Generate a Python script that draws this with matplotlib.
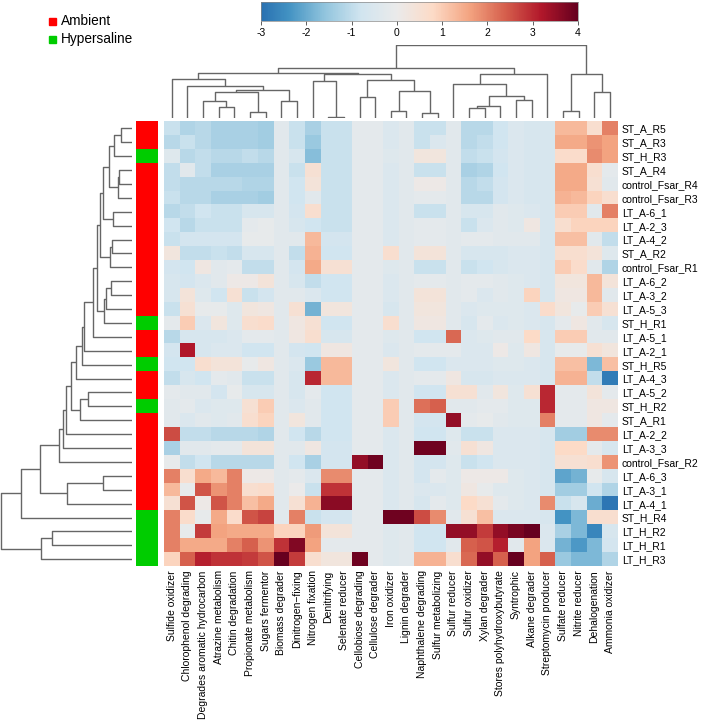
import numpy as np
import matplotlib
matplotlib.use('Agg')
import matplotlib.pyplot as plt
from matplotlib.colors import LinearSegmentedColormap, Normalize
from matplotlib.patches import Rectangle

plt.rcParams['font.family'] = ['Liberation Sans', 'DejaVu Sans']
plt.rcParams['axes.unicode_minus'] = False

# column labels (functional groups), in dendrogram order
functions = ['Sulfide oxidizer', 'Chlorophenol degrading', 'Degrades aromatic hydrocarbon',
             'Atrazine metabolism', 'Chitin degradation', 'Propionate metabolism',
             'Sugars fermentor', 'Biomass degrader', 'Dinitrogen\u2212fixing', 'Nitrogen fixation',
             'Denitrifying', 'Selenate reducer', 'Cellobiose degrading', 'Cellulose degrader',
             'Iron oxidizer', 'Lignin degrader', 'Naphthalene degrading', 'Sulfur metabolizing',
             'Sulfur reducer', 'Sulfur oxidizer', 'Xylan degrader', 'Stores polyhydroxybutyrate',
             'Syntrophic', 'Alkane degrader', 'Streptomycin producer', 'Sulfate reducer',
             'Nitrite reducer', 'Dehalogenation', 'Ammonia oxidizer']

# row labels (samples), in dendrogram order
samples = ['ST_A_R5', 'ST_A_R3', 'ST_H_R3', 'ST_A_R4', 'control_Fsar_R4', 'control_Fsar_R3',
           'LT_A-6_1', 'LT_A-2_3', 'LT_A-4_2', 'ST_A_R2', 'control_Fsar_R1', 'LT_A-6_2',
           'LT_A-3_2', 'LT_A-5_3', 'ST_H_R1', 'LT_A-5_1', 'LT_A-2_1', 'ST_H_R5', 'LT_A-4_3',
           'LT_A-5_2', 'ST_H_R2', 'ST_A_R1', 'LT_A-2_2', 'LT_A-3_3', 'control_Fsar_R2',
           'LT_A-6_3', 'LT_A-3_1', 'LT_A-4_1', 'ST_H_R4', 'LT_H_R2', 'LT_H_R1', 'LT_H_R3']

sample_group = ['Hypersaline' if '_H_' in s else 'Ambient' for s in samples]
group_colors = {'Ambient': '#FF0000', 'Hypersaline': '#00CC00'}

# scaled values (z-scores), one list per sample
values = [
    [-0.9, -1.2, -1.1, -1.3, -1.3, -1.3, -1.4, -0.3, -0.9, -1.3, -0.9, -0.9, -0.2, -0.2, -0.5, -0.3, -0.9, -0.9, -0.3, -1.1, -1.1, -0.8, -0.5, -0.6, -0.6, 1.3, 1.3, 0.6, 2.0],
    [-1.1, -0.9, -1.1, -1.3, -1.3, -1.3, -1.4, -0.3, -0.9, -1.5, -0.9, -0.9, -0.2, -0.2, -0.5, -0.3, -0.9, -0.5, -0.3, -1.1, -1.0, -0.8, -0.5, -0.6, -0.6, 1.5, 1.5, 1.8, 1.6],
    [-0.4, -1.1, -1.0, -1.1, -1.1, -1.0, -1.1, -0.3, -0.6, -1.7, -0.9, -0.9, -0.2, -0.2, -0.4, -0.3, 0.3, 0.3, -0.3, -1.0, -0.9, -0.7, -0.5, -0.6, -0.6, 0.7, 0.7, 1.9, 1.6],
    [-1.0, -0.3, -1.0, -1.3, -1.3, -1.3, -1.3, -0.3, -0.9, 0.5, -0.9, -0.9, -0.2, -0.2, -0.5, -0.3, -0.9, -0.9, -0.3, -1.3, -1.2, -0.8, -0.5, -0.6, -0.6, 1.5, 1.5, 0.6, -0.2],
    [-1.0, -1.1, -1.1, -1.1, -1.1, -1.2, -1.2, -0.3, -0.8, 0.4, -0.9, -0.9, -0.2, -0.2, -0.5, -0.3, 0.1, 0.1, -0.3, -1.1, -1.0, -0.7, -0.5, -0.6, -0.6, 1.5, 1.5, 0.5, -0.3],
    [-0.9, -1.1, -1.1, -1.3, -1.3, -1.3, -1.4, -0.3, -0.8, -0.3, -0.9, -0.9, -0.2, -0.2, -0.5, -0.3, -0.2, -0.2, -0.3, -1.1, -1.1, -0.7, -0.5, -0.6, -0.6, 1.4, 1.3, 0.9, 0.6],
    [-1.1, -1.0, -0.8, -0.9, -0.9, -0.6, -0.6, -0.3, -0.7, 0.6, -0.9, -0.9, -0.2, -0.2, -0.5, -0.3, -0.9, -0.9, -0.3, -0.6, -0.6, -0.3, -0.4, -0.5, -0.6, 1.0, 1.0, -0.3, 2.0],
    [-0.8, -1.1, -0.9, -0.9, -0.9, -0.2, -0.1, -0.3, -0.6, -0.8, -0.9, -0.9, -0.2, -0.2, -0.5, -0.3, -0.2, -0.2, -0.3, -0.9, -0.5, -0.3, -0.4, 0.2, -0.6, 0.6, 0.9, 0.9, 0.9],
    [-0.9, -0.7, -0.7, -0.7, -0.7, -0.1, -0.1, -0.3, -0.3, 1.3, -0.7, -0.7, -0.2, -0.2, -0.5, -0.3, -0.2, -0.2, -0.3, -0.2, -0.2, -0.3, -0.3, -0.3, -0.6, 1.2, 1.2, -0.3, -1.0],
    [0.3, -1.0, -1.0, -0.9, -1.0, -0.6, -0.6, -0.3, -1.0, 1.4, -0.8, -0.8, -0.2, -0.2, 0.6, -0.3, 0.4, 0.4, -0.3, -0.6, -0.6, -0.6, -0.5, -0.5, -0.6, 0.6, 0.6, 0.4, -0.4],
    [-0.7, -0.8, 0.2, -0.3, -0.2, -1.0, -1.0, -0.3, -0.7, 1.5, 0.5, 0.5, -0.2, -0.2, -0.4, -0.3, -0.9, -0.9, -0.3, -0.9, -0.8, -0.6, -0.5, -0.5, -0.6, 1.0, 0.7, -0.3, -1.2],
    [-0.6, -0.7, -0.5, -0.3, 0.1, 0.1, 0.4, -0.3, -0.6, -1.0, -0.8, -0.8, -0.2, -0.2, -0.5, -0.3, -0.2, -0.2, -0.3, -0.2, -0.2, -0.3, -0.4, -0.5, -0.6, 0.3, 0.3, 1.3, 0.4],
    [-0.6, 0.4, -0.4, -0.8, 0.5, -0.9, -0.7, -0.3, -0.3, -0.5, -0.8, -0.8, -0.2, -0.2, -0.5, -0.3, 0.4, 0.4, -0.3, -0.2, -0.5, -0.3, -0.4, 0.9, -0.6, 0.2, 0.2, 1.3, -0.3],
    [-0.9, 0.5, -0.1, -0.1, -0.4, 0.3, 0.2, -0.3, 0.5, -1.9, 0.3, 0.3, -0.2, -0.2, -0.6, -0.3, 0.3, 0.3, -0.3, -0.5, -0.4, -0.4, -0.4, -0.5, 0.7, 0.3, -0.1, 1.0, 0.5],
    [-0.2, 1.0, -0.5, 0.3, -0.4, 0.6, 0.7, -0.3, 0.2, 0.5, -0.8, -0.8, -0.2, -0.2, 0.6, -0.3, 0.2, 0.2, -0.3, -0.6, -0.2, -0.5, -0.4, -0.5, -0.6, -0.2, 0.2, -0.3, -0.6],
    [-1.1, -0.6, -0.6, -0.6, -0.5, -0.2, -0.2, -0.3, 0.2, 0.6, -0.6, -0.6, -0.2, -0.2, -0.4, -0.3, -0.8, -0.8, 2.3, -0.5, -0.4, -0.3, -0.3, 0.8, -0.6, 1.0, 1.0, -0.3, -0.3],
    [-0.7, 3.2, -0.6, -0.5, -0.5, -0.8, -0.8, -0.3, -0.7, -0.8, 0.2, 0.2, -0.2, -0.2, -0.5, -0.3, -0.2, -0.2, -0.2, -0.5, -0.5, 0.1, -0.4, 0.2, -0.6, -0.1, -0.1, 0.5, 0.3],
    [-0.8, -0.8, 0.6, 0.4, 0.4, -0.1, 0.2, -0.3, -0.5, -1.5, 1.3, 1.3, -0.2, -0.2, 0.3, -0.3, -0.8, -0.8, -0.5, -0.5, -0.5, -0.4, -0.4, -0.5, -0.6, 1.2, 1.2, -1.8, 1.2],
    [-1.0, -0.6, -0.8, -0.2, -0.3, -0.9, -0.9, -0.3, -0.6, 3.0, 1.3, 1.3, -0.2, -0.2, -0.5, -0.3, -0.2, -0.2, 0.2, -0.6, -0.6, -0.5, -0.5, -0.5, -0.6, 1.4, 1.4, -1.0, -2.8],
    [-0.2, -0.3, -0.3, -0.7, -0.1, -0.6, -0.6, -0.3, -0.6, -0.2, -0.8, -0.8, -0.2, -0.2, -0.5, -0.3, -0.8, -0.8, 0.5, 0.5, -0.3, 0.3, -0.4, 0.5, 3.0, -0.2, -0.2, 0.4, -0.2],
    [-0.3, -0.2, -0.5, -0.4, -0.4, 0.5, 1.0, -0.3, -0.5, -0.3, -0.8, -0.8, -0.2, -0.2, 1.0, -0.3, 2.2, 2.4, -0.3, -0.3, -0.2, -0.2, -0.4, -0.4, 3.0, -0.2, -0.2, 0.2, 0.2],
    [-0.3, -0.5, -0.3, -0.4, -0.3, 0.6, 0.9, -0.3, 0.3, -0.3, -0.8, -0.8, -0.2, -0.2, 1.0, -0.3, -0.7, -0.7, 3.5, -0.2, -0.1, -0.3, -0.4, -0.4, 2.0, -0.2, -0.2, 0.2, -0.2],
    [2.6, -1.0, -1.0, -1.1, -1.1, -1.1, -1.2, -0.3, -0.8, -1.1, -0.8, -0.8, -0.2, -0.2, -0.5, -0.3, -0.8, -0.8, -0.4, -0.9, -0.9, -0.5, -0.5, -0.5, -0.6, -1.4, -1.4, 1.9, 1.9],
    [-1.3, -0.3, -0.3, -0.2, -0.2, 0.4, 0.4, -0.3, -0.3, 0.2, -0.7, -0.7, -0.2, -0.2, -0.5, -0.3, 3.9, 3.9, -0.3, 0.5, 0.2, -0.5, -0.5, -0.5, -0.6, 0.8, 0.8, -0.2, -0.6],
    [-0.1, -1.0, -0.8, -1.1, -1.1, -1.1, -1.1, -0.3, -0.8, -1.3, -0.7, -0.7, 3.5, 3.9, -0.5, -0.3, -0.7, -0.7, -0.4, -0.9, -0.8, -0.5, -0.5, -0.5, -0.6, 0.5, 0.5, 0.6, 1.8],
    [2.0, 0.6, 1.5, 1.3, 2.0, 0.1, 0.1, -0.3, -0.2, -0.5, 1.9, 1.9, -0.2, -0.2, -0.5, -0.3, -0.7, -0.2, -0.4, 0.1, 0.1, 0.1, -0.4, -0.5, -0.6, -2.1, -1.9, -0.1, -0.6],
    [1.3, -0.1, 2.5, 1.8, 2.0, 0.6, 0.7, -0.3, 0.0, -0.9, 2.9, 2.9, -0.2, -0.2, -0.5, -0.3, -0.5, -0.5, -0.4, 0.2, -0.1, -0.4, -0.4, -0.5, -0.6, -1.4, -1.4, -0.8, -1.2],
    [0.5, 2.5, 0.1, 2.5, 2.0, 1.2, 1.5, -0.3, 0.5, 1.4, 3.6, 3.6, -0.2, -0.2, -0.5, -0.3, -0.6, -0.2, -0.4, 0.8, 0.5, -0.2, -0.4, -0.5, 1.9, -0.9, -0.6, -2.0, -2.9],
    [2.0, 0.7, -0.1, 1.5, 0.7, 2.5, 2.7, -0.3, 2.0, -0.9, -0.7, -0.7, -0.2, -0.2, 3.9, 3.9, 2.6, 1.9, -0.3, 0.5, 1.2, -0.5, -0.5, -0.5, -0.6, -2.4, -1.8, 0.6, 0.6],
    [2.0, -0.1, 2.8, 1.6, 1.5, 1.5, 1.5, 0.9, 0.9, 1.7, 0.4, 0.4, -0.2, -0.2, -0.4, -0.3, -0.8, -0.8, 3.5, 3.5, 2.8, 3.5, 3.8, 4.0, -0.5, -1.3, -1.8, -2.6, -0.6],
    [2.0, 1.5, 1.5, 1.5, 2.0, 2.4, 1.8, 2.9, 3.7, 1.6, -0.2, -0.2, -0.2, -0.2, -0.4, -0.3, -0.8, -0.8, -0.3, 2.4, 2.5, 3.1, -0.3, 1.6, -0.5, -1.9, -2.3, -1.8, -0.7],
    [0.9, 2.4, 3.1, 2.9, 2.9, 2.8, 2.5, 4.0, 2.8, 0.6, 0.3, 0.3, 3.9, -0.2, -0.4, -0.3, 1.4, 1.4, 0.6, 2.3, 3.5, 2.4, 4.0, 1.6, 2.4, -1.5, -1.8, -1.8, -1.2],
]

# dendrogram merges: (left, right, height); ints are leaves, 'mK' is merge K
col_merges = [
    (10, 11, 0.8), (3, 4, 11.7), (2, 'm1', 17.7), (5, 6, 6.7), ('m2', 'm3', 26.0),
    (7, 8, 17.7), ('m4', 'm5', 28.3), (1, 'm6', 32.7), (0, 'm7', 39.0), (9, 'm0', 37.7),
    (12, 13, 21.7), (14, 15, 7.3), (16, 17, 5.0), ('m11', 'm12', 27.7), ('m10', 'm13', 38.0),
    ('m9', 'm14', 44.0), ('m8', 'm15', 45.7), (19, 20, 10.0), ('m17', 21, 12.3), (22, 23, 18.3),
    ('m18', 'm19', 22.3), (18, 'm20', 34.0), ('m21', 24, 44.0), ('m16', 'm22', 50.0),
    (25, 26, 7.7), (27, 28, 26.7), ('m24', 'm25', 44.0), ('m23', 'm26', 73.3),
]

row_merges = [
    (0, 1, 10.5), ('m0', 2, 18.0), (3, 4, 13.0), ('m2', 5, 13.5), ('m1', 'm3', 23.0),
    (6, 7, 19.0), ('m4', 'm5', 29.0), (8, 9, 20.0), ('m7', 10, 22.0), ('m6', 'm8', 31.5),
    (11, 12, 20.5), ('m10', 13, 25.5), ('m11', 14, 27.5), ('m9', 'm12', 35.0), ('m13', 15, 39.0),
    ('m14', 16, 48.0), ('m15', 17, 50.0), ('m16', 18, 55.5), (19, 20, 44.0), ('m18', 21, 52.0),
    ('m17', 'm19', 61.0), ('m20', 22, 66.0), ('m21', 23, 69.0), ('m22', 24, 72.5),
    (25, 26, 29.0), ('m24', 27, 65.0), ('m23', 'm25', 91.5), ('m26', 28, 110.5),
    (29, 30, 80.0), ('m28', 31, 90.5), ('m27', 'm29', 130.8),
]

cbar_ticks = [-3, -2, -1, 0, 1, 2, 3, 4]

W, H = 709, 728
fig = plt.figure(figsize=(W / 100, H / 100), dpi=100)


def px_axes(x0, y0, x1, y1):
    return fig.add_axes([x0 / W, 1 - y1 / H, (x1 - x0) / W, (y1 - y0) / H])


def draw_dendrogram(ax, merges, side):
    pos, hgt = {}, {}

    def get(ref):
        if isinstance(ref, str):
            return pos[ref], hgt[ref]
        return ref + 0.5, 0.0

    for k, (a, b, h) in enumerate(merges):
        xa, ha = get(a)
        xb, hb = get(b)
        xs = [xa, xa, xb, xb]
        ys = [ha, h, h, hb]
        if side == 'top':
            ax.plot(xs, ys, color='#666666', lw=1.0, solid_capstyle='butt')
        else:
            ax.plot(ys, xs, color='#666666', lw=1.0, solid_capstyle='butt')
        pos['m%d' % k] = (xa + xb) / 2
        hgt['m%d' % k] = h


colors = ['#2166AC', '#4393C3', '#92C5DE', '#D1E5F0', '#EBEBEB',
          '#FDDBC7', '#F4A582', '#D6604D', '#B2182B', '#67001F']
cmap = LinearSegmentedColormap.from_list('rdbu', ['#053061'] + colors)
norm = Normalize(vmin=-4, vmax=4)

data = np.array(values)
n_rows, n_cols = data.shape

# heatmap
hx0, hx1 = 163.9, 617.7
hy0, hy1 = 121.4, 566.2
ax = px_axes(hx0, hy0, hx1, hy1)
ax.imshow(data, cmap=cmap, norm=norm, aspect='auto', interpolation='nearest',
          extent=(0, n_cols, n_rows, 0))
ax.set_xticks(np.arange(n_cols) + 0.5)
ax.set_xticklabels(functions, rotation=90, fontsize=7.5)
ax.set_yticks(np.arange(n_rows) + 0.5)
ax.set_yticklabels(samples, fontsize=7.5)
ax.yaxis.tick_right()
ax.tick_params(length=0, pad=3)
for s in ax.spines.values():
    s.set_visible(False)

# row annotation
ax_ann = px_axes(136, hy0, 158, hy1)
ann_rgb = np.array([matplotlib.colors.to_rgb(group_colors[g]) for g in sample_group])
ax_ann.imshow(ann_rgb[:, None, :], aspect='auto', interpolation='nearest',
              extent=(0, 1, n_rows, 0))
ax_ann.axis('off')

# row dendrogram
ax_rd = px_axes(0, hy0, 131.5, hy1)
draw_dendrogram(ax_rd, row_merges, 'left')
ax_rd.set_ylim(n_rows, 0)
ax_rd.set_xlim(131.5, 0)
ax_rd.axis('off')

# column dendrogram
ax_cd = px_axes(hx0, 44.5, hx1, 118.3)
draw_dendrogram(ax_cd, col_merges, 'top')
ax_cd.set_xlim(0, n_cols)
ax_cd.set_ylim(0, 73.8)
ax_cd.axis('off')

# colour bar
ax_cb = px_axes(261, 2, 578, 21)
grad = np.linspace(cbar_ticks[0], cbar_ticks[-1], 400)
ax_cb.imshow(grad[None, :], cmap=cmap, norm=norm, aspect='auto',
             extent=(cbar_ticks[0], cbar_ticks[-1], 0, 1))
ax_cb.set_yticks([])
ax_cb.set_xticks(cbar_ticks)
ax_cb.set_xticklabels([str(t) for t in cbar_ticks], fontsize=7.5)
ax_cb.tick_params(axis='x', length=3, width=0.6, color='#444444', pad=2)
for s in ax_cb.spines.values():
    s.set_linewidth(0.5)
    s.set_color('#888888')

# legend for the sample groups
ax_lg = px_axes(0, 0, 160, 60)
ax_lg.set_xlim(0, 160)
ax_lg.set_ylim(60, 0)
ax_lg.axis('off')
for i, g in enumerate(['Ambient', 'Hypersaline']):
    yc = 21 + 18 * i
    ax_lg.add_patch(Rectangle((49, yc - 3.5), 7, 7, color=group_colors[g]))
    ax_lg.text(61, yc, g, fontsize=9.8, va='center', ha='left')

fig.savefig('out.png', dpi=100)
